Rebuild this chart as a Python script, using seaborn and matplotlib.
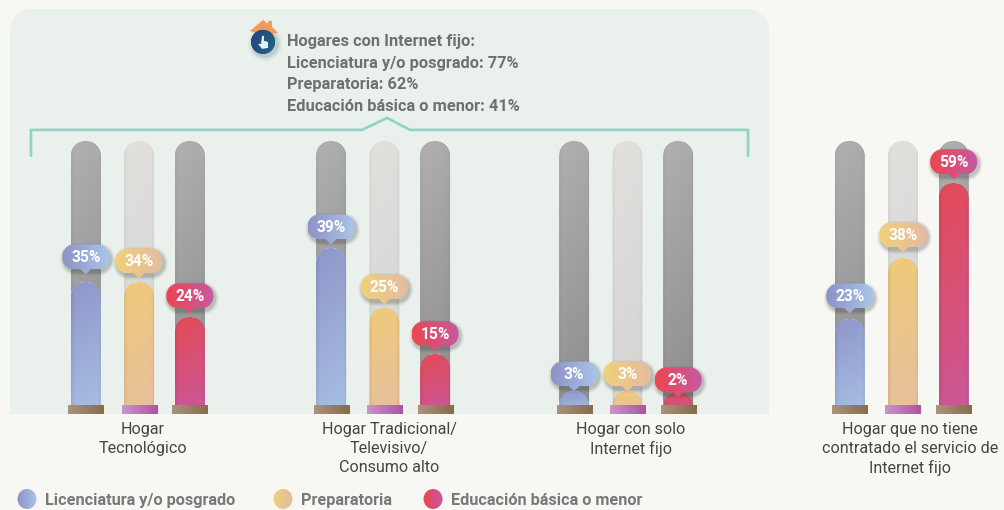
import numpy as np
import pandas as pd
import seaborn as sns
import matplotlib.pyplot as plt
from matplotlib.colors import to_rgb
from matplotlib.patches import Ellipse, PathPatch, Polygon, Circle
from matplotlib.path import Path
from matplotlib.transforms import IdentityTransform

# data
niveles = ['Licenciatura y/o posgrado', 'Preparatoria', 'Educación básica o menor']
grupos = ['Hogar\nTecnológico', 'Hogar Tradicional/\nTelevisivo/\nConsumo alto',
          'Hogar con solo\nInternet fijo', 'Hogar que no tiene\ncontratado el servicio de\nInternet fijo']
etiquetas = [['35%', '34%', '24%'], ['39%', '25%', '15%'], ['3%', '3%', '2%'], ['23%', '38%', '59%']]
# bar heights as drawn (they do not follow the printed labels exactly)
alto_tecnologico = [33, 33, 24.25]
alto_tradicional = [41.5, 26.5, 15]
alto_solo_internet = [5.75, 5.75, 5.5]
alto_sin_internet = [23.75, 39, 57.75]
altos = [alto_tecnologico, alto_tradicional, alto_solo_internet, alto_sin_internet]
alto_pista = [68.25, 68.25, 68.25]
resumen = ['Hogares con Internet fijo:', 'Licenciatura y/o posgrado: 77%', 'Preparatoria: 62%',
           'Educación básica o menor: 41%']

# layout in pixels
W, H = 1004, 510
BASE = 414
PX_UNIT = 4
centros = [137.75, 383, 626, 901.5]
paso = 52
ax_w = paso * 3
label_shift = [5, 6, 5, 8.5]
nudge_medio = 1.3
gaps = [[25, 21, 21], [21, 21, 20], [17, 17, 12], [23, 23, 21]]

col_valor = [('#8f96c9', '#a8c0e4'), ('#eecb7a', '#e8bfa0'), ('#e44a55', '#c9589c')]
col_globo = [('#8e92c6', '#a9c6ea'), ('#f0d178', '#e4bba2'), ('#ec4650', '#c65aa2')]
col_pista = [('#b0b0b0', '#8c8c8c'), ('#e1e0dd', '#d4d4d4'), ('#b0b0b0', '#8c8c8c')]
col_pie = [('#a8937f', '#886c4c'), ('#c596c6', '#ab55a1'), ('#a8937f', '#886c4c')]

sns.set_theme(style='white')
plt.rcParams['font.family'] = ['Roboto', 'DejaVu Sans']

fig = plt.figure(figsize=((W + 0.1) / 100, (H + 0.1) / 100), dpi=100, facecolor='#f7f8f4')


def gradiente(c0, c1, ny=60, nx=30, diag=0.0, horizontal=False, borde=0.0):
    yy, xx = np.mgrid[0:1:ny * 1j, 0:1:nx * 1j]
    t = xx if horizontal else np.clip(yy * (1 - diag) + xx * diag, 0, 1)
    a, b = np.array(to_rgb(c0)), np.array(to_rgb(c1))
    img = a[None, None, :] * (1 - t[..., None]) + b[None, None, :] * t[..., None]
    if borde:
        lado = np.clip(np.minimum(xx, 1 - xx) / 0.12, 0, 1)
        img = img * (1 - borde * (1 - lado))[..., None]
    return np.clip(img, 0, 1)


def redondeado(x, y, w, h, r, **kw):
    # matplotlib's round boxstyle gives squarish corners, so build true arcs
    k = r * 0.5523
    x1, y1 = x + w, y + h
    v = [(x + r, y), (x1 - r, y), (x1 - r + k, y), (x1, y + r - k), (x1, y + r),
         (x1, y1 - r), (x1, y1 - r + k), (x1 - r + k, y1), (x1 - r, y1),
         (x + r, y1), (x + r - k, y1), (x, y1 - r + k), (x, y1 - r),
         (x, y + r), (x, y + r - k), (x + r - k, y), (x + r, y), (x + r, y)]
    c = [Path.MOVETO, Path.LINETO, Path.CURVE4, Path.CURVE4, Path.CURVE4,
         Path.LINETO, Path.CURVE4, Path.CURVE4, Path.CURVE4,
         Path.LINETO, Path.CURVE4, Path.CURVE4, Path.CURVE4,
         Path.LINETO, Path.CURVE4, Path.CURVE4, Path.CURVE4, Path.CLOSEPOLY]
    return PathPatch(Path(v, c), **kw)


def overlay(z):
    a = fig.add_axes([0, 0, 1, 1], zorder=z)
    a.set_xlim(0, W)
    a.set_ylim(H, 0)
    a.axis('off')
    return a


fondo = overlay(0)
frente = overlay(2)

# panel with rounded top, flat bottom (the lower corners fall below the clip)
panel = redondeado(10, 9, 759, 450, 22, fc='#eaf0ec', ec='none')
fondo.add_patch(panel)
panel.set_clip_path(redondeado(0, 0, W, BASE, 0.01, transform=fondo.transData))

# bracket
fondo.plot([31, 31, 362, 387, 410, 748, 748], [156, 130, 130, 118, 130, 130, 156], color='#8fd3c6', lw=1.9,
           solid_joinstyle='miter')

# summary text
for i, linea in enumerate(resumen):
    fondo.text(287, 41.5 + i * 21.7, linea, color='#6f7070', fontsize=11.8, fontweight='semibold', va='center')

# icon
for r, al in zip([17, 15, 13.5], [0.06, 0.08, 0.12]):
    fondo.add_patch(Circle((265, 44), r, fc='#3a5a70', ec='none', alpha=al))
fondo.add_patch(Polygon([[250, 31], [263, 20], [268, 24], [268, 21], [272, 21], [272, 27], [278, 33], [263, 36]],
                        fc='#f09a5c', ec='none'))
disco = Circle((263, 42), 12, fc='#1f4a78', ec='none')
fondo.add_patch(disco)
im = fondo.imshow(gradiente('#2a3f80', '#1d6a80', diag=0.6), extent=(251, 275, 54, 30), aspect='auto', zorder=3)
im.set_clip_path(disco)
fondo.add_patch(Polygon([[262, 36], [264, 36], [264, 41], [268, 42], [268, 48], [262, 49], [258, 44], [261, 44]],
                        fc='#dff0f6', ec='none', zorder=4))
fondo.set_xlim(0, W)
fondo.set_ylim(H, 0)

# bars, one axes per group
for g, centro in enumerate(centros):
    left = centro - ax_w / 2
    alto_ax = 71
    ax = fig.add_axes([left / W, (H - BASE) / H, ax_w / W, alto_ax * PX_UNIT / H], zorder=1)
    ax.patch.set_visible(False)
    df = pd.DataFrame({'nivel': niveles, 'alto': altos[g], 'pista': alto_pista})
    sns.barplot(data=df, x='nivel', y='pista', order=niveles, hue='nivel', hue_order=niveles,
                palette=[c[1] for c in col_pista], saturation=1, width=30 / paso, legend=False, ax=ax)
    sns.barplot(data=df, x='nivel', y='alto', order=niveles, hue='nivel', hue_order=niveles,
                palette=[c[1] for c in col_valor], saturation=1, width=30 / paso, legend=False, ax=ax)
    ax.set_xlim(-0.5, 2.5)
    ax.set_ylim(0, alto_ax)
    ax.set_xticks([])
    ax.set_yticks([])
    ax.set_ylabel('')
    ax.set_xlabel(grupos[g], color='#454545', fontsize=11.6, linespacing=1.33, ha='center', va='top')
    ax.xaxis.set_label_coords(0.5 + label_shift[g] / ax_w, -7.5 / (alto_ax * PX_UNIT))
    sns.despine(ax=ax, left=True, bottom=True)

    for i, bar in enumerate(ax.patches):
        n = i % 3
        if n == 1:
            bar.set_x(bar.get_x() + nudge_medio / paso)
        es_pista = i < 3
        x0, x1 = bar.get_x(), bar.get_x() + bar.get_width()
        h = bar.get_height()
        (dx0, dy0), (dx1, dy1) = ax.transData.transform([(x0, 0), (x1, h)])
        clip = redondeado(dx0, dy0 - 20, dx1 - dx0, dy1 - dy0 + 20, 15, transform=IdentityTransform())
        bar.set_clip_path(clip)
        c0, c1 = col_pista[n] if es_pista else col_valor[n]
        img = ax.imshow(gradiente(c0, c1, diag=0.15, borde=0.07 if not es_pista else 0.04),
                        extent=(x0, x1, 0, h), aspect='auto', origin='upper', zorder=1.5 if es_pista else 2.5)
        bar.set_zorder(1.4 if es_pista else 2.4)
        img.set_clip_path(clip)
        if es_pista:
            continue

        # foot and callout go on the front layer, placed from the bar geometry
        (cx, top) = ax.transData.transform(((x0 + x1) / 2, h))
        top = H - top
        pw, ph = 35, 8
        c0, c1 = col_pie[n]
        frente.imshow(gradiente(c0, c1, ny=4, nx=30, horizontal=True),
                      extent=(cx - pw / 2, cx + pw / 2, BASE, BASE - ph), aspect='auto', zorder=3)

        gw, gh = 47, 25
        gy = top - gaps[g][n]
        gx0, gy0 = cx - gw / 2, gy - gh / 2
        for pad, al in zip([4, 3, 2, 1], [0.04, 0.06, 0.08, 0.1]):
            frente.add_patch(redondeado(gx0 + 1.5 - pad, gy0 + 2.5 - pad, gw + 2 * pad, gh + 2 * pad, 12 + pad,
                                        fc='#303030', ec='none', alpha=al, zorder=4))
        c0, c1 = col_globo[n]
        medio = gradiente(c0, c1, ny=2, nx=3, horizontal=True)[0, 1]
        frente.add_patch(Polygon([[cx - 6, gy0 + gh - 1], [cx + 6, gy0 + gh - 1], [cx, gy0 + gh + 5]],
                                 fc=medio, ec='none', zorder=5))
        globo = redondeado(gx0, gy0, gw, gh, 12, fc='none', ec='none', zorder=5)
        frente.add_patch(globo)
        gi = frente.imshow(gradiente(c0, c1, ny=4, nx=40, horizontal=True),
                           extent=(gx0, gx0 + gw, gy0 + gh, gy0), aspect='auto', zorder=5)
        gi.set_clip_path(globo)
        frente.text(cx, gy + 0.5, etiquetas[g][n], color='white', fontsize=11.2, fontweight='bold', ha='center',
                    va='center', zorder=6)

# legend
leg_x = [27, 283, 433]
for x, nombre, (c0, c1) in zip(leg_x, niveles, col_globo):
    elip = Ellipse((x, 499), 19, 20, fc='none', ec='none')
    frente.add_patch(elip)
    li = frente.imshow(gradiente(c0, c1, ny=4, nx=30, horizontal=True), extent=(x - 10, x + 10, 510, 488),
                       aspect='auto', zorder=3)
    li.set_clip_path(elip)
    frente.text(x + 18, 500.5, nombre, color='#77787a', fontsize=11.7, fontweight='semibold', va='center')

frente.set_xlim(0, W)
frente.set_ylim(H, 0)

fig.savefig('out.png', dpi=100, facecolor=fig.get_facecolor())
